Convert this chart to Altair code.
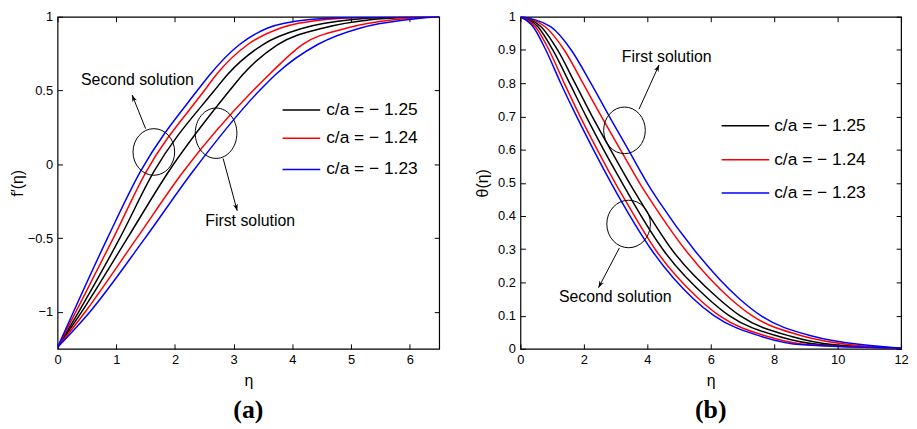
import math
import altair as alt
import pandas as pd

# ---------------- data ----------------
CA_LABELS = ["c/a = − 1.25", "c/a = − 1.24", "c/a = − 1.23"]
CA_COLORS = ["#000000", "#ff0000", "#0000ff"]

# panel (a): f'(eta). Shared f' levels, eta where each curve reaches that level
FP_LEVELS = [-1.24, -1.0, -0.5, -0.05, 0.5, 0.611, 0.812, 0.924, 0.98, 0.995, 1.0]
A_ETA_125_FIRST = [0, 0.41, 1.19, 1.89, 2.93, 3.16, 3.75, 4.53, 5.33, 5.9, 6.5]
A_ETA_125_SECOND = [0, 0.36, 1.06, 1.64, 2.67, 2.90, 3.50, 4.19, 4.99, 5.6, 6.5]
A_ETA_124_FIRST = [0, 0.47, 1.35, 2.14, 3.33, 3.61, 4.17, 4.93, 5.72, 6.15, 6.5]
A_ETA_124_SECOND = [0, 0.31, 0.95, 1.51, 2.50, 2.71, 3.24, 3.80, 4.53, 5.25, 6.5]
A_ETA_123_FIRST = [0, 0.55, 1.49, 2.30, 3.44, 3.72, 4.43, 5.16, 5.95, 6.3, 6.5]
A_ETA_123_SECOND = [0, 0.27, 0.85, 1.41, 2.38, 2.60, 3.10, 3.58, 4.26, 5.0, 6.5]

# panel (b): theta(eta). Shared theta levels, eta where each curve reaches that level
TH_LEVELS = [1.0, 0.97, 0.9, 0.8, 0.7, 0.6, 0.4925, 0.445, 0.2955, 0.151, 0.1, 0.037, 0.012, 0.002]
B_ETA_125_FIRST = [0, 0.65, 1.17, 1.72, 2.26, 2.84, 3.48, 3.78, 4.80, 6.25, 6.92, 8.55, 9.9, 12]
B_ETA_125_SECOND = [0, 0.55, 1.02, 1.55, 2.07, 2.62, 3.25, 3.53, 4.52, 5.92, 6.58, 8.15, 9.5, 12]
B_ETA_124_FIRST = [0, 0.78, 1.38, 1.97, 2.55, 3.15, 3.80, 4.12, 5.22, 6.62, 7.30, 8.95, 10.4, 12]
B_ETA_124_SECOND = [0, 0.47, 0.90, 1.38, 1.88, 2.42, 3.03, 3.32, 4.28, 5.62, 6.27, 7.80, 9.1, 12]
B_ETA_123_FIRST = [0, 0.95, 1.60, 2.22, 2.80, 3.40, 4.04, 4.36, 5.50, 6.90, 7.58, 9.25, 10.8, 12]
B_ETA_123_SECOND = [0, 0.40, 0.80, 1.27, 1.77, 2.30, 2.90, 3.18, 4.15, 5.45, 6.10, 7.60, 8.9, 12]

A_XTICKS = [0, 1, 2, 3, 4, 5, 6]
A_YTICKS = [-1, -0.5, 0, 0.5, 1]
B_XTICKS = [0, 2, 4, 6, 8, 10, 12]
B_YTICKS = [0, 0.1, 0.2, 0.3, 0.4, 0.5, 0.6, 0.7, 0.8, 0.9, 1]

FONT = "Liberation Sans"


def build(levels, curves):
    rows = []
    for label, sol, etas in curves:
        for i, (e, v) in enumerate(zip(etas, levels)):
            rows.append({"eta": e, "val": v, "ca": label, "curve": label + " " + sol, "i": i})
    return pd.DataFrame(rows)


df_a = build(FP_LEVELS, [
    (CA_LABELS[0], "first", A_ETA_125_FIRST), (CA_LABELS[0], "second", A_ETA_125_SECOND),
    (CA_LABELS[1], "first", A_ETA_124_FIRST), (CA_LABELS[1], "second", A_ETA_124_SECOND),
    (CA_LABELS[2], "first", A_ETA_123_FIRST), (CA_LABELS[2], "second", A_ETA_123_SECOND),
])
df_b = build(TH_LEVELS, [
    (CA_LABELS[0], "first", B_ETA_125_FIRST), (CA_LABELS[0], "second", B_ETA_125_SECOND),
    (CA_LABELS[1], "first", B_ETA_124_FIRST), (CA_LABELS[1], "second", B_ETA_124_SECOND),
    (CA_LABELS[2], "first", B_ETA_123_FIRST), (CA_LABELS[2], "second", B_ETA_123_SECOND),
])


def ellipse_path(ratio):
    k = 0.5523
    r = ratio
    return (f"M0,{-r} C{k},{-r} 1,{-k*r} 1,0 C1,{k*r} {k},{r} 0,{r} "
            f"C{-k},{r} -1,{k*r} -1,0 C-1,{-k*r} {-k},{-r} 0,{-r} Z")


ARROW_HEAD = "M0,0 L0.45,1.25 L0,0.9 L-0.45,1.25 Z"


def axis(**kw):
    return alt.Axis(grid=False, domain=False, tickColor="black", tickSize=5, tickWidth=1, offset=-5,
                    labelFont=FONT, labelFontSize=13, labelColor="black", labelPadding=5,
                    labelOverlap=False, labelFlush=False, titleFont=FONT, titleFontSize=16,
                    titleFontWeight="normal", titleColor="black", format="~g", **kw)


def panel(df, xdom, ydom, xticks, yticks, ytitle, letter, W, H,
          texts, ellipses, arrows, leg_x0, leg_x1, leg_tx, leg_ys, ytitle_pad):
    base = alt.Chart(df)
    xs = alt.Scale(domain=xdom, nice=False, zero=False)
    ys = alt.Scale(domain=ydom, nice=False, zero=False)
    lines = base.mark_line(strokeWidth=1.5, interpolate="monotone", clip=True).encode(
        x=alt.X("eta:Q", scale=xs, axis=axis(values=xticks, title="η", orient="bottom", titlePadding=6)),
        y=alt.Y("val:Q", scale=ys, axis=axis(values=yticks, title=ytitle, orient="left",
                                              titlePadding=ytitle_pad)),
        color=alt.Color("ca:N", scale=alt.Scale(domain=CA_LABELS, range=CA_COLORS), legend=None),
        detail="curve:N",
        order="i:Q",
    )
    mirror = base.mark_line(opacity=0).encode(
        x=alt.X("eta:Q", scale=xs, axis=axis(values=xticks, labels=False, title=None, orient="top")),
        y=alt.Y("val:Q", scale=ys, axis=axis(values=yticks, labels=False, title=None, orient="right")),
        detail="curve:N",
    )
    layers = [lines, mirror]
    xr = xdom[1] - xdom[0]
    yr = ydom[1] - ydom[0]
    for txt, tx, ty in texts:
        layers.append(alt.Chart().mark_text(font=FONT, fontSize=16, color="black").encode(
            x=alt.XDatum(tx, axis=None), y=alt.YDatum(ty, axis=None), text=alt.value(txt)))
    for ex, ey, w, ratio in ellipses:
        layers.append(alt.Chart().mark_point(shape=ellipse_path(ratio), size=w * w, filled=False,
                                             color="black", strokeWidth=1, opacity=1).encode(
            x=alt.XDatum(ex, axis=None), y=alt.YDatum(ey, axis=None)))
    for x1, y1, x2, y2 in arrows:
        layers.append(alt.Chart().mark_rule(color="black", strokeWidth=1).encode(
            x=alt.XDatum(x1, axis=None), y=alt.YDatum(y1, axis=None),
            x2=alt.datum(x2), y2=alt.datum(y2)))
        dx = (x2 - x1) * W / xr
        dy = -(y2 - y1) * H / yr
        ang = math.degrees(math.atan2(dx, -dy)) % 360
        layers.append(alt.Chart().mark_point(shape=ARROW_HEAD, size=120, filled=True, color="black",
                                             opacity=1, angle=ang, strokeWidth=0.5).encode(
            x=alt.XDatum(x2, axis=None), y=alt.YDatum(y2, axis=None)))
    for lab, col, ly in zip(CA_LABELS, CA_COLORS, leg_ys):
        layers.append(alt.Chart().mark_rule(color=col, strokeWidth=1.5).encode(
            x=alt.value(leg_x0), x2=alt.value(leg_x1), y=alt.value(ly)))
        layers.append(alt.Chart().mark_text(font=FONT, fontSize=17.5, color="black", align="left",
                                            baseline="middle").encode(
            x=alt.value(leg_tx), y=alt.value(ly), text=alt.value(lab)))
    return alt.layer(*layers).properties(
        width=W, height=H,
        title=alt.TitleParams(letter, orient="bottom", font="Liberation Serif", fontSize=26,
                              fontWeight="bold", anchor="middle", offset=9, color="black"),
    ).resolve_axis(x="independent", y="independent")


left = panel(
    df_a, [0, 6.5], [-1.25, 1], A_XTICKS, A_YTICKS, "f′(η)", "(a)", 385, 335,
    texts=[("Second solution", 1.36, 0.57), ("First solution", 3.28, -0.387)],
    ellipses=[(1.64, 0.084, 42, 1.12), (2.70, 0.211, 42, 1.21)],
    arrows=[(1.50, 0.242, 1.27, 0.47), (2.82, 0.04, 3.06, -0.315)],
    leg_x0=227, leg_x1=265, leg_tx=271, leg_ys=[94, 122.5, 154], ytitle_pad=2,
)
right = panel(
    df_b, [0, 12], [0, 1], B_XTICKS, B_YTICKS, "θ(η)", "(b)", 384, 335,
    texts=[("First solution", 4.61, 0.88), ("Second solution", 2.99, 0.156)],
    ellipses=[(3.28, 0.658, 42, 1.12), (3.41, 0.376, 44, 1.09)],
    arrows=[(3.74, 0.722, 4.37, 0.855), (3.12, 0.304, 2.46, 0.184)],
    leg_x0=203, leg_x1=251, leg_tx=256, leg_ys=[110, 144.3, 177.7], ytitle_pad=7,
)

chart = alt.hconcat(left, right, spacing=33).properties(
    padding={"left": 0, "top": 0, "right": 0, "bottom": 0}, background="white"
).configure_view(stroke="black", strokeWidth=1.2)

chart.save("out.html", embed_options={"renderer": "svg", "actions": False})
